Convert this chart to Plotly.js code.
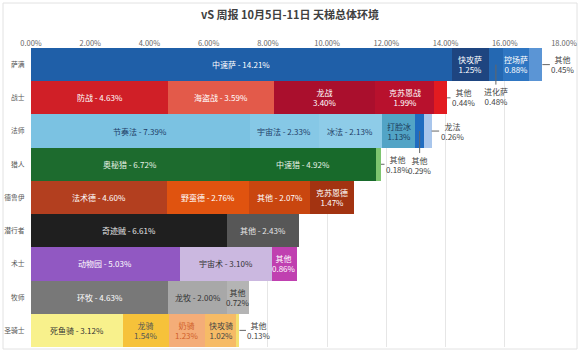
<!DOCTYPE html>
<html>
<head>
<meta charset="utf-8">
<script src="https://cdn.plot.ly/plotly-3.0.1.min.js"></script>
<style>
html,body{margin:0;padding:0;background:#fff;}
#chart{width:580px;height:356px;}
</style>
</head>
<body>
<div id="chart"></div>
<script>
// ---- data ----
const titleText = 'vS 周报 10月5日-11日 天梯总体环境';
const classes = ['萨满','战士','法师','猎人','德鲁伊','潜行者','术士','牧师','圣骑士'];
const tickValues = [0,2,4,6,8,10,12,14,16,18];
const tickLabels = ['0.00%','2.00%','4.00%','6.00%','8.00%','10.00%','12.00%','14.00%','16.00%','18.00%'];

const segClass = ['萨满','萨满','萨满','萨满','萨满',
                  '战士','战士','战士','战士','战士',
                  '法师','法师','法师','法师','法师','法师',
                  '猎人','猎人','猎人',
                  '德鲁伊','德鲁伊','德鲁伊','德鲁伊',
                  '潜行者','潜行者',
                  '术士','术士','术士',
                  '牧师','牧师','牧师',
                  '圣骑士','圣骑士','圣骑士','圣骑士','圣骑士'];
const segName = ['中速萨','快攻萨','进化萨','控场萨','其他',
                 '防战','海盗战','龙战','克苏恩战','其他',
                 '节奏法','宇宙法','冰法','打脸冰','其他','龙法',
                 '奥秘猎','中速猎','其他',
                 '法术德','野蛮德','其他','克苏恩德',
                 '奇迹贼','其他',
                 '动物园','宇宙术','其他',
                 '环牧','龙牧','其他',
                 '死鱼骑','龙骑','奶骑','快攻骑','其他'];
const segValue = [14.21,1.25,0.48,0.88,0.45,
                  4.63,3.59,3.40,1.99,0.44,
                  7.39,2.33,2.13,1.13,0.29,0.26,
                  6.72,4.92,0.18,
                  4.60,2.76,2.07,1.47,
                  6.61,2.43,
                  5.03,3.10,0.86,
                  4.63,2.00,0.72,
                  3.12,1.54,1.23,1.02,0.13];

// ---- styles ----
const segColor = ['#1f5fa8','#1e4580','#2468b2','#2f76c2','#5b95d5',
                  '#d01f27','#e35a4a','#aa0f2d','#b8112d','#e21b20',
                  '#7bc2e2','#86c8e6','#8ecce8','#52a4c6','#1f6cc0','#a9c6ec',
                  '#1d6b2e','#186a2b','#7dc46f',
                  '#b33f1f','#e0530f','#c9460f','#a33311',
                  '#1f1f1f','#575757',
                  '#9158c2','#cbb8e0','#c040b0',
                  '#787878','#a8a8a8','#b4b4b4',
                  '#f8f18c','#f6c23a','#f4ad78','#f6bb66','#f3e070'];
const segTextColor = ['#ffffff','#ffffff','#444','#ffffff','#444',
                      '#ffffff','#ffffff','#ffffff','#ffffff','#444',
                      '#1e3d66','#1e3d66','#1e3d66','#1a3a5a','#444','#444',
                      '#e8f3e6','#e8f3e6','#444',
                      '#ffffff','#ffffff','#ffffff','#ffffff',
                      '#e6e6e6','#e6e6e6',
                      '#ffffff','#333333','#ffffff',
                      '#ffffff','#333333','#333333',
                      '#333333','#555555','#d0602a','#444','#444'];
// label mode: 'line' = "name - v%", 'two' = two lines inside, 'out' = outside with leader
const segMode = ['line','two','out','two','out',
                 'line','line','two','two','out',
                 'line','line','line','two','out','out',
                 'line','line','out',
                 'line','line','line','two',
                 'line','line',
                 'line','line','two',
                 'line','line','two',
                 'line','two','two','two','out'];
// leader offsets for outside labels: [anchor ('mid'|'end'), ax, ay]
const outStyle = {2:['mid',0,32], 4:['end',21,0], 9:['end',17,0], 14:['mid',0,34],
                  15:['end',21,0], 18:['end',17,0], 35:['end',20,0]};

const traces = [];
const annotations = [];
const cum = {};
const rowTotal = {};
segValue.forEach((v,i)=>{ rowTotal[segClass[i]] = (rowTotal[segClass[i]]||0) + v; });

segValue.forEach((v,i)=>{
  const c = segClass[i];
  const start = cum[c] || 0;
  cum[c] = start + v;
  traces.push({
    type:'bar', orientation:'h', y:[c], x:[v],
    marker:{color:segColor[i], line:{width:0}},
    hoverinfo:'skip', showlegend:false
  });
  const vt = v.toFixed(2) + '%';
  const mode = segMode[i];
  if (mode === 'out') {
    const st = outStyle[i];
    const xp = st[0] === 'mid' ? start + v/2 : rowTotal[c];
    annotations.push({
      x: xp, y: c, xref:'x', yref:'y',
      text: segName[i] + '<br>' + vt,
      showarrow:true, arrowhead:0, arrowwidth:1, arrowcolor:'#666',
      ax: st[1], ay: st[2], standoff:0,
      font:{size:8, color:'#444', family:'Noto Sans CJK SC, sans-serif'}
    });
  } else {
    annotations.push({
      x: start + v/2, y: c, xref:'x', yref:'y',
      text: mode === 'two' ? segName[i] + '<br>' + vt : segName[i] + ' - ' + vt,
      showarrow:false,
      font:{size:8, color:segTextColor[i], family:'Noto Sans CJK SC, sans-serif'}
    });
  }
});

const L = 31, W = 533, T = 48, H = 299;
const layout = {
  width:580, height:356,
  margin:{l:L, r:580-L-W, t:T, b:356-T-H, pad:0},
  paper_bgcolor:'#ffffff', plot_bgcolor:'#ffffff',
  barmode:'stack', bargap:0,
  title:{text:titleText, x:0.5, xanchor:'center', y:0.958, yanchor:'middle',
         font:{size:11, color:'#404040', family:'Noto Sans CJK SC, sans-serif', weight:'bold'}},
  xaxis:{side:'top', range:[0,18], tickvals:tickValues, ticktext:tickLabels,
         showgrid:true, gridcolor:'#e6e6e6', gridwidth:1, zeroline:false,
         showline:false, ticks:'', fixedrange:true,
         tickfont:{size:7.5, color:'#666', family:'Noto Sans CJK SC, sans-serif'}},
  yaxis:{type:'category', categoryorder:'array', categoryarray:classes,
         range:[classes.length-0.5, -0.5], showgrid:false, zeroline:false,
         showline:false, ticks:'outside', ticklen:4, tickcolor:'rgba(0,0,0,0)',
         tickfont:{size:6.8, color:'#555', family:'Noto Sans CJK SC, sans-serif'}, fixedrange:true},
  annotations: annotations,
  shapes:[{type:'rect', xref:'paper', yref:'paper',
           x0:(3-L)/W, x1:(577-L)/W, y0:(T+H-349)/H, y1:(T+H-3)/H,
           line:{color:'#e2e2e2', width:1}, fillcolor:'rgba(0,0,0,0)', layer:'below'}]
};

Plotly.newPlot('chart', traces, layout, {displayModeBar:false, staticPlot:true});
</script>
</body>
</html>
